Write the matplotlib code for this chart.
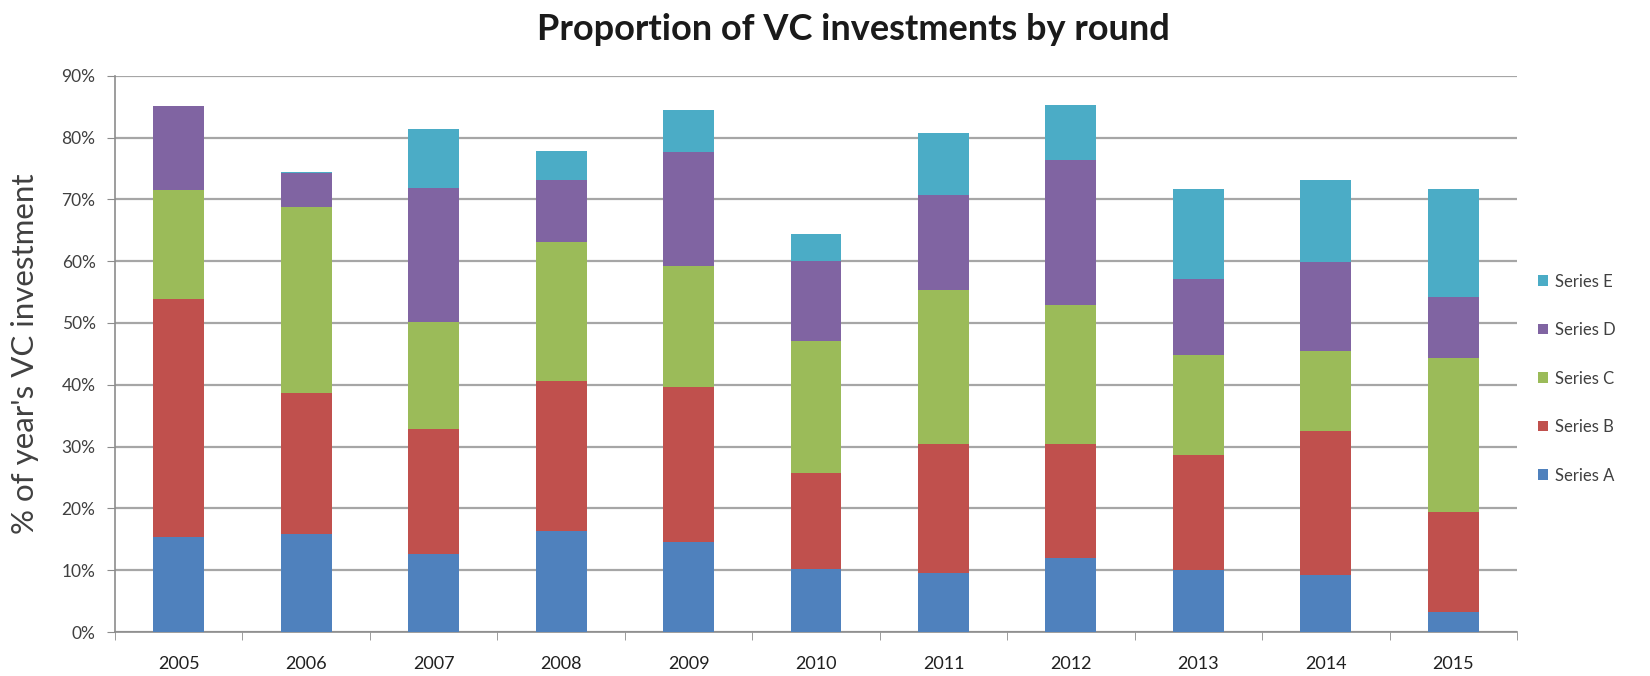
import numpy as np
import matplotlib
matplotlib.use("Agg")
import matplotlib.pyplot as plt
from matplotlib.ticker import FuncFormatter

years = ['2005', '2006', '2007', '2008', '2009', '2010',
         '2011', '2012', '2013', '2014', '2015']

# share of the year's VC investment, in percent
series_a = [15.4, 15.8, 12.7, 16.3, 14.5, 10.2, 9.6, 12.0, 10.1, 9.2, 3.3]
series_b = [38.4, 22.8, 20.1, 24.3, 25.1, 15.6, 20.8, 18.4, 18.6, 23.3, 16.1]
series_c = [17.7, 30.2, 17.3, 22.5, 19.6, 21.3, 25.0, 22.5, 16.2, 12.9, 24.9]
series_d = [13.6, 5.4, 21.7, 10.1, 18.4, 13.0, 15.3, 23.5, 12.2, 14.4, 9.9]
series_e = [0.0, 0.3, 9.6, 4.7, 6.8, 4.3, 10.1, 8.9, 14.5, 13.3, 17.4]

names = ['Series A', 'Series B', 'Series C', 'Series D', 'Series E']
colors = ['#4F81BD', '#C0504D', '#9BBB59', '#8064A2', '#4BACC6']

plt.rcParams['font.family'] = ['Lato', 'DejaVu Sans']

fig = plt.figure(figsize=(16.5, 6.76), dpi=100)
ax = fig.add_axes([0.0697, 0.065, 0.8497, 0.823])

x = np.arange(len(years))
bottom = np.zeros(len(years))
bars = []
for vals, name, col in zip([series_a, series_b, series_c, series_d, series_e],
                           names, colors):
    vals = np.array(vals)
    b = ax.bar(x, vals, 0.4, bottom=bottom, color=col, label=name, zorder=3)
    bars.append(b)
    bottom += vals

ax.set_xlim(-0.5, len(years) - 0.5)
ax.set_ylim(0, 90)
ax.set_yticks(np.arange(0, 91, 10))
ax.yaxis.set_major_formatter(FuncFormatter(lambda v, p: '%d%%' % v))
ax.set_xticks(x)
ax.set_xticklabels(years)
ax.set_xticks(np.arange(-0.5, len(years), 1), minor=True)

ax.grid(axis='y', color='#a6a6a6', linewidth=1.6, zorder=0)
for s in ['top', 'right']:
    ax.spines[s].set_visible(False)
ax.spines['left'].set_color('#8c8c8c')
ax.spines['left'].set_linewidth(1.2)
ax.spines['bottom'].set_color('#8c8c8c')
ax.spines['bottom'].set_linewidth(1.2)

ax.tick_params(axis='y', length=6, color='#8c8c8c', labelsize=12.5,
               labelcolor='#404040', pad=8)
ax.tick_params(axis='x', which='major', length=0, labelsize=13,
               labelcolor='#202020', pad=17)
ax.tick_params(axis='x', which='minor', length=6, color='#8c8c8c')

ax.set_ylabel("% of year's VC investment", fontsize=22.5, color='#404040',
              labelpad=16)
fig.text(0.517, 0.956, 'Proportion of VC investments by round',
         ha='center', va='center', fontsize=26, fontweight='bold',
         color='#1a1a1a')

handles = [b[0] for b in bars][::-1]
leg = fig.legend(handles, names[::-1], loc='center left',
                 bbox_to_anchor=(0.923, 0.44), frameon=False,
                 fontsize=12, handlelength=0.6, handleheight=0.6,
                 handletextpad=0.45, labelspacing=1.95)
for t in leg.get_texts():
    t.set_color('#404040')

fig.savefig('out.png', dpi=100)
